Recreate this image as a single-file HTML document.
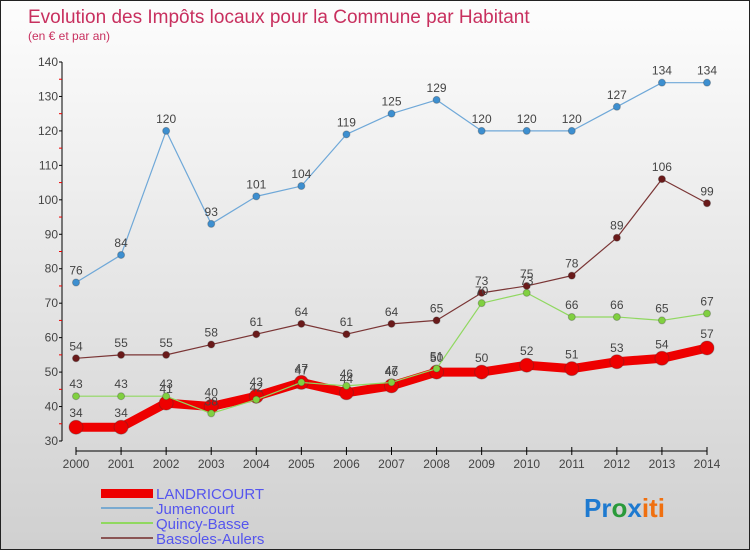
<!DOCTYPE html>
<html><head><meta charset="utf-8"><style>
body{margin:0;width:750px;height:550px;overflow:hidden;font-family:"Liberation Sans",sans-serif}
#c{position:absolute;left:0;top:0;width:748px;height:548px;border:1px solid #222;background:linear-gradient(#fdfdfd,#d0d0d0)}
</style></head><body>
<div id="c">
<svg width="750" height="550" id="svg">
<text x="27" y="22" font-size="19" fill="#c8305f">Evolution des Impôts locaux pour la Commune par Habitant</text>
<text x="27" y="39" font-size="12" fill="#c8305f">(en € et par an)</text>
<g id="axes"></g><g id="series"></g>
<g font-size="15" fill="#5555ee">
<rect x="100" y="488" width="52" height="9" fill="#e00"/>
<text x="155" y="498">LANDRICOURT</text>
<rect x="100" y="506" width="52" height="2" fill="#7aaad0"/>
<text x="155" y="513">Jumencourt</text>
<rect x="100" y="521" width="52" height="2" fill="#90d860"/>
<text x="155" y="528">Quincy-Basse</text>
<rect x="100" y="536" width="52" height="2" fill="#8a5555"/>
<text x="155" y="543">Bassoles-Aulers</text>
</g>
<text x="583" y="516" font-size="26" font-weight="bold"><tspan fill="#1e7ad0">Pr</tspan><tspan fill="#2a9a3a">o</tspan><tspan fill="#1e7ad0">x</tspan><tspan fill="#f07010">iti</tspan></text>
</svg></div>
<script>
const years=[2000,2001,2002,2003,2004,2005,2006,2007,2008,2009,2010,2011,2012,2013,2014];
const landricourt=[34,34,41,40,43,47,44,46,50,50,52,51,53,54,57];
const jumencourt=[76,84,120,93,101,104,119,125,129,120,120,120,127,134,134];
const quincy=[43,43,43,38,42,47,46,47,51,70,73,66,66,65,67];
const bassoles=[54,55,55,58,61,64,61,64,65,73,75,78,89,106,99];
const yTicks=[30,40,50,60,70,80,90,100,110,120,130,140];
const NS="http://www.w3.org/2000/svg";
const x=i=>75+i*(631/(years.length-1));
const y=v=>440-(v-30)*(379/110);
function mk(t,a,p){const e=document.createElementNS(NS,t);for(const k in a)e.setAttribute(k,a[k]);p.appendChild(e);return e;}
const ax=document.getElementById('axes');
let e=mk('line',{x1:61,y1:y(140),x2:61,y2:y(30),stroke:'#000'},ax);


yTicks.forEach(v=>{
 let l=mk('line',{x1:58,x2:61,y1:y(v),y2:y(v),stroke:'#000'},ax);
 
 
 if(v<140){let m=mk('line',{x1:58,x2:61,y1:y(v+5),y2:y(v+5),stroke:'#e00'},ax);
 
 }
 let t=mk('text',{x:57,y:y(v)+4,'font-size':12,fill:'#444','text-anchor':'end'},ax);t.textContent=v;
 
 
});
e=mk('line',{x1:x(0),y1:450,x2:x(14),y2:450,stroke:'#000'},ax);


years.forEach((yr,i)=>{
 let l=mk('line',{x1:x(i),x2:x(i),y1:446,y2:454,stroke:'#000'},ax);
 
 
 let t=mk('text',{x:x(i),y:467,'font-size':12,fill:'#444','text-anchor':'middle'},ax);t.textContent=yr;
 
 
});
const sg=document.getElementById('series');
function draw(name,data,color,w,r,fillPt,lblOff){
 const g=mk('g',{},sg);
 
 
 const p=mk('polyline',{points:data.map((v,i)=>x(i)+','+y(v)).join(' '),fill:'none',stroke:color,'stroke-width':w,'stroke-linejoin':'round'},g);
 
 
 data.forEach((v,i)=>{
  const c=mk('circle',{cx:x(i),cy:y(v),r:r,fill:fillPt,stroke:'#333','stroke-opacity':0.3},g);
  
  
  const t=mk('text',{x:x(i),y:y(v)-lblOff,'font-size':12,fill:'#444','text-anchor':'middle'},g);t.textContent=v;
  
  
 });
}
draw('jumencourt',jumencourt,'#6fa8d8',1.2,3.5,'#3d8fd0',8);
draw('bassoles',bassoles,'#7a3535',1.2,3.5,'#6a1a1a',8);
draw('landricourt',landricourt,'#ee0000',9,7,'#ee0000',10);
draw('quincy',quincy,'#90d860',1.2,3.5,'#80d040',8);
</script>
</body></html>
